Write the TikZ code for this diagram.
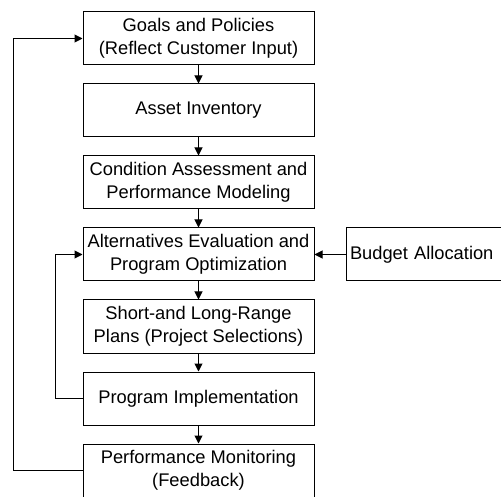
\documentclass[tikz,border=0pt]{standalone}
\usepackage{fontspec}
\setmainfont{Liberation Sans}
\usepackage{tikz}
\usetikzlibrary{arrows.meta,positioning}

\begin{document}
\begin{tikzpicture}[
  node distance=18pt and 31pt,
  stage/.style={draw,line width=1pt,align=center,minimum height=53pt,
                minimum width=231pt,inner sep=2pt,
                font=\fontsize{18.3}{22.5}\selectfont},
  side/.style={draw,line width=1pt,align=left,minimum height=53pt,
               text width=160pt,inner sep=4pt,
               font=\fontsize{18.3}{22.5}\selectfont},
  arr/.style={line width=1pt,-{Triangle[length=8pt,width=8pt]}}]
\useasboundingbox (0,0) rectangle (501pt,-497pt);
\node[stage] (goals) at (198.5pt,-38.5pt) {Goals and Policies\\(Reflect Customer Input)};
\node[stage,below=of goals] (inv) {Asset Inventory};
\node[stage,below=of inv] (cond) {Condition Assessment and\\Performance Modeling};
\node[stage,below=of cond] (alt) {Alternatives Evaluation and\\Program Optimization};
\node[stage,below=of alt] (plans) {Short-and Long-Range\\Plans (Project Selections)};
\node[stage,below=of plans] (impl) {Program Implementation};
\node[stage,below=of impl] (perf) {Performance Monitoring\\(Feedback)};
\node[side,right=of alt] (budget) {Budget Allocation};
\draw[arr] (goals)--(inv);
\draw[arr] (inv)--(cond);
\draw[arr] (cond)--(alt);
\draw[arr] (alt)--(plans);
\draw[arr] (plans)--(impl);
\draw[arr] (impl)--(perf);
\draw[arr] (budget)--(alt);
\draw[arr] (impl.west) -- ++(-27pt,0) |- (alt.west);
\draw[arr] (perf.west) -- ++(-69pt,0) |- (goals.west);
\end{tikzpicture}
\end{document}
